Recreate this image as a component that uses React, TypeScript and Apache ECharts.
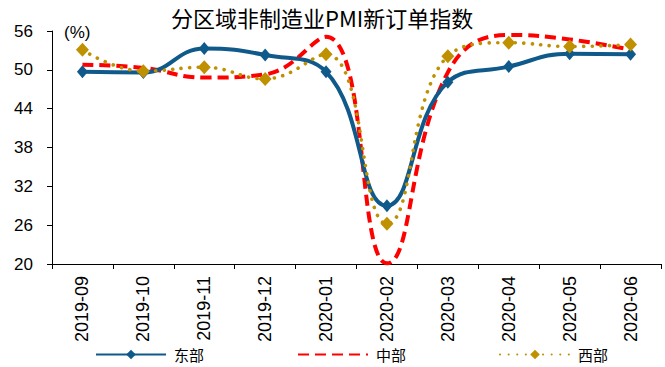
import React, { useEffect, useRef } from "react";
import * as echarts from "echarts";

const months = [
  "2019-09", "2019-10", "2019-11", "2019-12", "2020-01",
  "2020-02", "2020-03", "2020-04", "2020-05", "2020-06",
];
const east = [49.7, 49.6, 53.3, 52.3, 49.7, 29.0, 48.1, 50.5, 52.5, 52.4];
const central = [50.8, 50.3, 48.8, 49.3, 55.1, 20.1, 49.6, 55.4, 54.7, 53.1];
const west = [53.1, 49.8, 50.4, 48.6, 52.4, 26.2, 52.1, 54.2, 53.6, 53.9];
const yTicks = { min: 20, max: 56, step: 6 };

const CJK = "'Noto Sans CJK SC', sans-serif";
const LATIN = "'Liberation Sans', Arial, sans-serif";

export default function App() {
  const ref = useRef<HTMLDivElement>(null);

  useEffect(() => {
    if (!ref.current) return;
    const chart = echarts.init(ref.current, null, { renderer: "svg" });
    chart.setOption({
      animation: false,
      backgroundColor: "#ffffff",
      graphic: [
        {
          type: "text",
          left: 171,
          top: 6,
          style: {
            text: "分区域非制造业PMI新订单指数",
            font: `22px ${CJK}`,
            fill: "#000",
          },
        },
        {
          type: "text",
          left: 64,
          top: 24,
          style: { text: "(%)", font: `17px ${LATIN}`, fill: "#000" },
        },
      ],
      legend: {
        left: 95,
        top: 347,
        padding: 0,
        itemGap: 93,
        itemWidth: 70,
        itemHeight: 12,
        textStyle: {
          fontFamily: CJK,
          fontSize: 15,
          lineHeight: 15,
          color: "#000",
          padding: [0, 0, 0, 3],
        },
        data: [
          { name: "东部" },
          { name: "中部", itemStyle: { opacity: 0 } },
          { name: "西部" },
        ],
      },
      grid: { left: 52, right: 4, top: 31, bottom: 103 },
      xAxis: {
        type: "category",
        data: months,
        boundaryGap: true,
        axisLine: { lineStyle: { color: "#000", width: 1 } },
        axisTick: { show: true, length: 5, lineStyle: { color: "#000" } },
        axisLabel: {
          rotate: 90,
          margin: 12,
          fontFamily: LATIN,
          fontSize: 18,
          color: "#000",
          interval: 0,
        },
        splitLine: { show: false },
      },
      yAxis: {
        type: "value",
        min: yTicks.min,
        max: yTicks.max,
        interval: yTicks.step,
        axisLine: { show: true, lineStyle: { color: "#000", width: 1 } },
        axisTick: { show: true, length: 5, lineStyle: { color: "#000" } },
        axisLabel: { fontFamily: LATIN, fontSize: 17, color: "#000", margin: 19 },
        splitLine: { show: false },
      },
      series: [
        {
          name: "东部",
          type: "line",
          data: east,
          smooth: 0.45,
          symbol: "diamond",
          symbolSize: [11, 13],
          itemStyle: { color: "#0F5A8A" },
          lineStyle: { color: "#0F5A8A", width: 4 },
          z: 3,
        },
        {
          name: "中部",
          type: "line",
          data: central,
          smooth: 0.45,
          symbol: "none",
          itemStyle: { color: "#FF0000" },
          lineStyle: { color: "#FF0000", width: 4, type: [11, 6] },
          z: 2,
        },
        {
          name: "西部",
          type: "line",
          data: west,
          smooth: 0.45,
          symbol: "diamond",
          symbolSize: [13, 14],
          itemStyle: { color: "#BF9000" },
          lineStyle: { color: "#BF9000", width: 3.6, type: [0.1, 8.5], cap: "round" },
          z: 4,
        },
      ],
    });
    return () => chart.dispose();
  }, []);

  return (
    <div
      ref={ref}
      style={{ position: "fixed", left: 0, top: 0, width: 665, height: 367 }}
    />
  );
}
